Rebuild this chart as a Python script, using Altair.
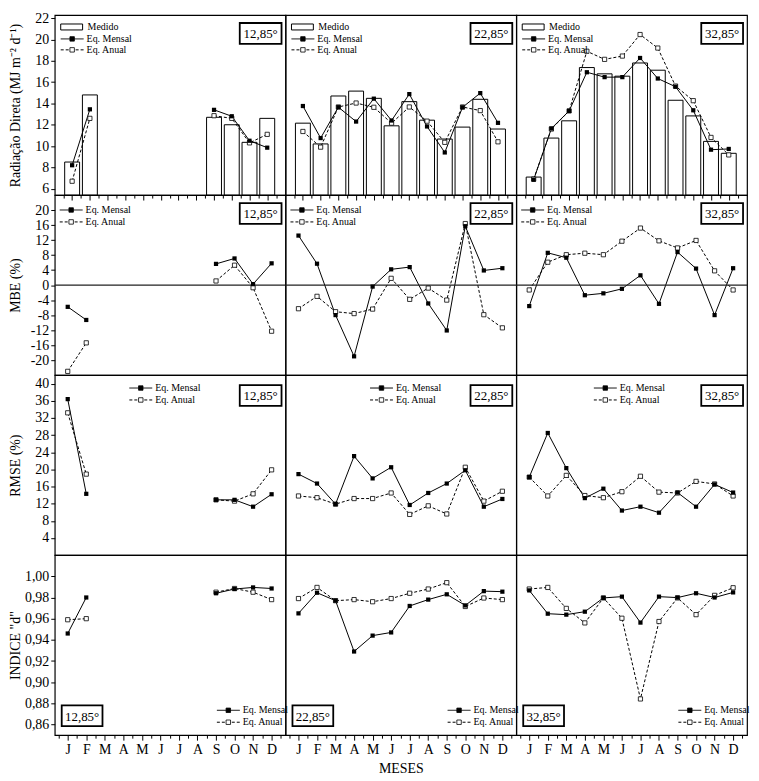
import json
import altair as alt
import pandas as pd

FONT = "Liberation Serif"
MONTHS = ["J", "F", "M", "A", "M", "J", "J", "A", "S", "O", "N", "D"]
LATS = ["12,85°", "22,85°", "32,85°"]
LEG_MEDIDO = "Medido"
LEG_MENSAL = "Eq. Mensal"
LEG_ANUAL = "Eq. Anual"
Y_TITLES = ["Radiação Direta (MJ m⁻² d⁻¹)", "MBE (%)", "RMSE (%)", 'INDICE "d"']
X_TITLE = "MESES"
N = None

# ---- Row 1: Radiação direta (MJ m-2 d-1)
rad_med_12 = [8.5, 14.8, N, N, N, N, N, N, 12.7, 12.0, 10.35, 12.6]
rad_men_12 = [8.2, 13.45, N, N, N, N, N, N, 13.4, 12.8, 10.5, 9.85]
rad_anu_12 = [6.7, 12.6, N, N, N, N, N, N, 12.85, 12.6, 10.3, 11.1]
rad_med_22 = [12.15, 10.2, 14.7, 15.16, 14.48, 11.9, 14.17, 12.43, 10.66, 11.78, 14.39, 11.6]
rad_men_22 = [13.76, 10.75, 13.65, 12.3, 14.45, 12.4, 14.88, 11.84, 9.4, 13.64, 14.97, 12.18]
rad_anu_22 = [11.37, 9.9, 13.67, 14.04, 13.64, 12.15, 13.67, 12.34, 10.35, 13.67, 13.33, 10.4]
rad_med_32 = [7.09, 10.75, 12.37, 17.37, 16.78, 16.56, 17.8, 17.12, 14.3, 12.83, 10.44, 9.32]
rad_men_32 = [6.84, 11.65, 13.3, 16.93, 16.47, 16.47, 18.27, 16.34, 15.57, 13.36, 9.66, 9.73]
rad_anu_32 = [6.9, 11.6, 13.3, 18.9, 18.14, 18.45, 20.47, 19.2, 15.63, 14.26, 10.81, 9.17]

# ---- Row 2: MBE (%)
mbe_men_12 = [-5.8, -9.3, N, N, N, N, N, N, 5.65, 7.1, 0.26, 5.8]
mbe_anu_12 = [-23.0, -15.4, N, N, N, N, N, N, 1.1, 5.3, -0.7, -12.3]
mbe_men_22 = [13.2, 5.7, -8.0, -19.0, -0.4, 4.2, 4.8, -4.9, -12.1, 15.7, 3.9, 4.5]
mbe_anu_22 = [-6.3, -3.0, -7.1, -7.6, -6.4, 1.8, -3.8, -0.8, -4.0, 16.4, -7.9, -11.4]
mbe_men_32 = [-5.6, 8.6, 7.3, -2.7, -2.2, -1.0, 2.6, -5.0, 8.8, 4.4, -8.0, 4.5]
mbe_anu_32 = [-1.3, 6.1, 8.1, 8.5, 8.1, 11.7, 15.2, 11.8, 9.9, 11.9, 3.8, -1.3]

# ---- Row 3: RMSE (%)
rmse_men_12 = [36.4, 14.3, N, N, N, N, N, N, 12.9, 12.9, 11.3, 14.2]
rmse_anu_12 = [33.2, 18.9, N, N, N, N, N, N, 12.9, 12.6, 14.3, 19.9]
rmse_men_22 = [18.9, 16.7, 11.9, 23.1, 17.9, 20.5, 11.7, 14.5, 16.7, 19.8, 11.3, 13.1]
rmse_anu_22 = [13.8, 13.4, 11.9, 13.2, 13.2, 14.5, 9.5, 11.5, 9.6, 20.5, 12.6, 14.9]
rmse_men_32 = [18.2, 28.5, 20.3, 13.3, 15.5, 10.4, 11.3, 9.9, 14.6, 11.3, 16.5, 14.6]
rmse_anu_32 = [18.2, 13.8, 18.6, 13.9, 13.4, 14.8, 18.4, 14.7, 14.5, 17.2, 16.6, 13.8]

# ---- Row 4: Indice "d"
d_men_12 = [0.946, 0.980, N, N, N, N, N, N, 0.984, 0.988, 0.9895, 0.9885]
d_anu_12 = [0.959, 0.960, N, N, N, N, N, N, 0.985, 0.9885, 0.985, 0.978]
d_men_22 = [0.965, 0.9845, 0.977, 0.929, 0.944, 0.947, 0.972, 0.978, 0.983, 0.9725, 0.986, 0.9855]
d_anu_22 = [0.979, 0.9895, 0.977, 0.978, 0.976, 0.979, 0.984, 0.988, 0.994, 0.9715, 0.9795, 0.978]
d_men_32 = [0.9867, 0.9647, 0.9638, 0.9666, 0.9796, 0.9808, 0.9563, 0.9808, 0.9799, 0.984, 0.980, 0.9848]
d_anu_32 = [0.988, 0.9895, 0.9697, 0.956, 0.9796, 0.9604, 0.8842, 0.9573, 0.9796, 0.9638, 0.982, 0.9892]

SERIES = [
    [(rad_med_12, rad_men_12, rad_anu_12), (rad_med_22, rad_men_22, rad_anu_22), (rad_med_32, rad_men_32, rad_anu_32)],
    [(None, mbe_men_12, mbe_anu_12), (None, mbe_men_22, mbe_anu_22), (None, mbe_men_32, mbe_anu_32)],
    [(None, rmse_men_12, rmse_anu_12), (None, rmse_men_22, rmse_anu_22), (None, rmse_men_32, rmse_anu_32)],
    [(None, d_men_12, d_anu_12), (None, d_men_22, d_anu_22), (None, d_men_32, d_anu_32)],
]

Y_DOMAINS = [[5.4, 22.3], [-24, 24], [0, 42], [0.85, 1.02]]
Y_TICKS = [list(range(6, 23, 2)), list(range(-20, 21, 4)), list(range(4, 41, 4)),
           [0.86, 0.88, 0.90, 0.92, 0.94, 0.96, 0.98, 1.00]]
Y_LABEL_EXPR = ["'' + datum.value", "'' + datum.value", "'' + datum.value",
                "replace(format(datum.value, '.2f'), '.', ',')"]
X_DOMAIN = [0.3, 12.75]
X_TICKS = [i / 2 for i in range(1, 26)]
X_LABEL_EXPR = "datum.value % 1 === 0 ? " + json.dumps(MONTHS) + "[datum.value - 1] : ''"
TICK_SIZE = {"condition": {"test": "datum.value % 1 === 0", "value": 5}, "value": 3}

W, H = 232, 181
LEG_FS = 10


def to_df(vals):
    rows, seg, prev = [], 0, None
    for i, v in enumerate(vals):
        if v is None:
            prev = None
            continue
        if prev is None:
            seg += 1
        rows.append({"m": i + 1, "v": v, "seg": seg})
        prev = v
    return pd.DataFrame(rows)


def one(label=""):
    return pd.DataFrame({"t": [label]})


def legend_entry(x0, y, label, dashed):
    line = alt.Chart(one()).mark_rule(color="black", strokeWidth=1,
                                      strokeDash=[3, 2] if dashed else [1, 0]).encode(
        x=alt.value(x0), x2=alt.value(x0 + 23), y=alt.value(y))
    pt = alt.Chart(one()).mark_point(shape="square", filled=True, size=20,
                                     fill="white" if dashed else "black",
                                     stroke="black", strokeWidth=0.8, opacity=1).encode(
        x=alt.value(x0 + 11.5), y=alt.value(y))
    txt = alt.Chart(one(label)).mark_text(align="left", baseline="middle", font=FONT,
                                          fontSize=LEG_FS, color="black").encode(
        x=alt.value(x0 + 26), y=alt.value(y), text="t:N")
    return [line, pt, txt]


def lat_box(label, x1, y1, x2, y2):
    rect = alt.Chart(one()).mark_rect(fill="white", stroke="black", strokeWidth=1.8).encode(
        x=alt.value(x1), x2=alt.value(x2), y=alt.value(y1), y2=alt.value(y2))
    txt = alt.Chart(one(label)).mark_text(align="center", baseline="middle", font=FONT,
                                          fontSize=13, color="black").encode(
        x=alt.value((x1 + x2) / 2), y=alt.value((y1 + y2) / 2 + 1), text="t:N")
    return [rect, txt]


def panel(r, c):
    if r == 3:
        x_axis = alt.Axis(values=X_TICKS, labelExpr=X_LABEL_EXPR, title=X_TITLE if c == 1 else None,
                          domain=False, grid=False, tickSize=TICK_SIZE, labelPadding=2,
                          titlePadding=6, labelOverlap=False, labelFlush=False)
    elif r == 0:
        x_axis = alt.Axis(values=X_TICKS, labels=False, title=None, domain=False, grid=False,
                          tickSize=TICK_SIZE)
    else:
        x_axis = None
    if c == 0:
        y_axis = alt.Axis(values=Y_TICKS[r], labelExpr=Y_LABEL_EXPR[r], title=Y_TITLES[r],
                          titleX=-39, titleBaseline="middle", domain=False, grid=False,
                          tickSize=4, labelPadding=2, labelOverlap=False, labelFlush=False)
    else:
        y_axis = None
    X = alt.X("m:Q", scale=alt.Scale(domain=X_DOMAIN, nice=False, zero=False), axis=x_axis)
    Y = alt.Y("v:Q", scale=alt.Scale(domain=Y_DOMAINS[r], nice=False, zero=False), axis=y_axis)

    med, men, anu = SERIES[r][c]
    layers = []
    if med is not None:
        layers.append(alt.Chart(to_df(med)).mark_bar(size=15, fill="white", stroke="black",
                                                     strokeWidth=1).encode(
            x=X, y=Y, y2=alt.datum(Y_DOMAINS[r][0])))
    d_men, d_anu = to_df(men), to_df(anu)
    layers.append(alt.Chart(d_anu).mark_line(color="black", strokeWidth=1, strokeDash=[3, 2]).encode(
        x=X, y=Y, detail="seg:N"))
    layers.append(alt.Chart(d_men).mark_line(color="black", strokeWidth=1).encode(
        x=X, y=Y, detail="seg:N"))
    if r == 1:
        layers.append(alt.Chart(pd.DataFrame({"v": [0]})).mark_rule(color="#222", strokeWidth=1.3).encode(y=Y))
    layers.append(alt.Chart(d_anu).mark_point(shape="square", filled=True, size=18, fill="white",
                                              stroke="black", strokeWidth=0.8, opacity=1).encode(x=X, y=Y))
    layers.append(alt.Chart(d_men).mark_point(shape="square", filled=True, size=18, fill="black",
                                              opacity=1).encode(x=X, y=Y))

    # legends
    if r == 0:
        layers.append(alt.Chart(one()).mark_rect(fill="white", stroke="black", strokeWidth=1).encode(
            x=alt.value(6), x2=alt.value(28), y=alt.value(9), y2=alt.value(15)))
        layers.append(alt.Chart(one(LEG_MEDIDO)).mark_text(align="left", baseline="middle", font=FONT,
                                                           fontSize=LEG_FS, color="black").encode(
            x=alt.value(33), y=alt.value(12), text="t:N"))
        layers += legend_entry(6, 24, LEG_MENSAL, False)
        layers += legend_entry(6, 35, LEG_ANUAL, True)
    elif r == 1:
        layers += legend_entry(5, 15, LEG_MENSAL, False)
        layers += legend_entry(5, 27, LEG_ANUAL, True)
    elif r == 2:
        x0 = [75, 85, 78][c]
        layers += legend_entry(x0, 13, LEG_MENSAL, False)
        layers += legend_entry(x0, 25, LEG_ANUAL, True)
    else:
        layers += legend_entry(163, H - 25, LEG_MENSAL, False)
        layers += legend_entry(163, H - 13, LEG_ANUAL, True)

    if r < 3:
        y1 = 8 if r < 2 else 10
        layers += lat_box(LATS[c], W - 46, y1, W - 4, y1 + 21)
    else:
        layers += lat_box(LATS[c], 7, H - 30, 48, H - 9)

    return alt.layer(*layers).properties(width=W, height=H)


panels = [panel(r, c) for r in range(4) for c in range(3)]

chart = alt.concat(*panels, columns=3, spacing=0, bounds="flush").properties(
    padding=0
).configure_axis(
    labelFont=FONT, titleFont=FONT, labelFontSize=14, titleFontSize=14,
    titleFontWeight="normal", labelColor="black", titleColor="black",
    tickColor="black", tickWidth=1,
).configure_view(stroke="black", strokeWidth=1.2).configure_text(font=FONT)

chart.save("out.html", embed_options={"renderer": "svg", "actions": False})
